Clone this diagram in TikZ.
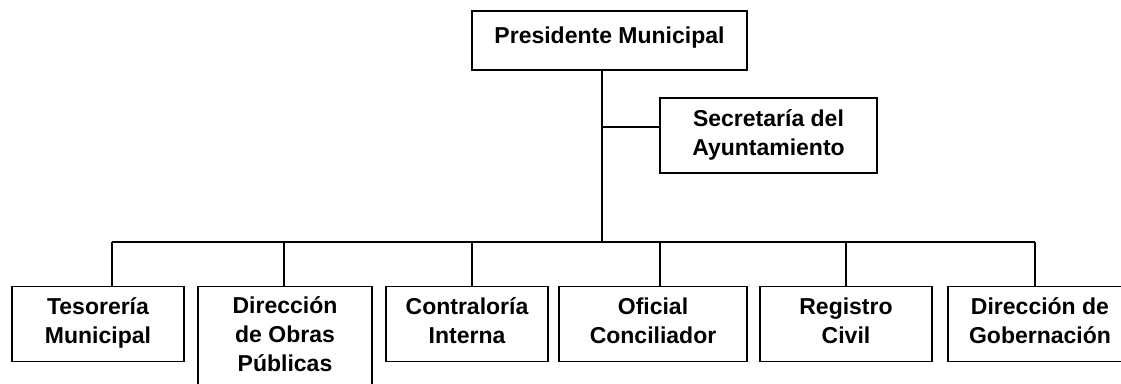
\documentclass[tikz,border=0pt]{standalone}
\usepackage{fontspec}
\setmainfont{Liberation Sans}
\begin{document}
\begin{tikzpicture}[x=1pt,y=-1pt,
    unit/.style={draw,line width=1.3pt,rectangle,align=center,inner sep=0pt,
      font=\bfseries\fontsize{23}{29}\selectfont,text height=45pt,text depth=6pt},
    lower/.style={unit,anchor=north,minimum height=75pt},
    link/.style={line width=1.3pt}]

      \useasboundingbox (0,0) rectangle (1121,383);

      \node[unit,minimum width=275pt,minimum height=59pt,text height=16pt,text depth=11pt] (pres) at (609.5,40.5) {Presidente Municipal};
      \node[unit,minimum width=217pt,minimum height=75pt] (secre) at (768.5,135.5) {Secretaría del\\Ayuntamiento};

      \node[lower,minimum width=172pt] (teso) at (98,286) {Tesorería\\Municipal};
      \node[lower,minimum width=174pt,minimum height=102pt,text height=74pt] (obras) at (285,286) {Dirección\\de Obras\\Públicas};
      \node[lower,minimum width=162pt] (contra) at (467,286) {Contraloría\\Interna};
      \node[lower,minimum width=188pt] (ofic) at (653,286) {Oficial\\Conciliador};
      \node[lower,minimum width=172pt] (regis) at (846,286) {Registro\\Civil};
      \node[lower,minimum width=184pt] (gober) at (1040,286) {Dirección de\\Gobernación};

      \coordinate (bus) at (602,242); % main line meets the bus
      \coordinate (sectap) at (602,127);

      \draw[link] (pres.south -| bus) -- (bus); % main line
      \draw[link] (sectap) -- (sectap -| secre.west);
      \draw[link] ([xshift=14pt]teso.north |- bus) -- ([xshift=-5pt]gober.north |- bus); % bus

      \foreach \n/\dx in {teso/14,obras/-1,contra/5,ofic/7,regis/0,gober/-5}
      \draw[link] ([xshift=\dx pt]\n.north |- bus) -- ([xshift=\dx pt]\n.north);

\end{tikzpicture}
\end{document}
